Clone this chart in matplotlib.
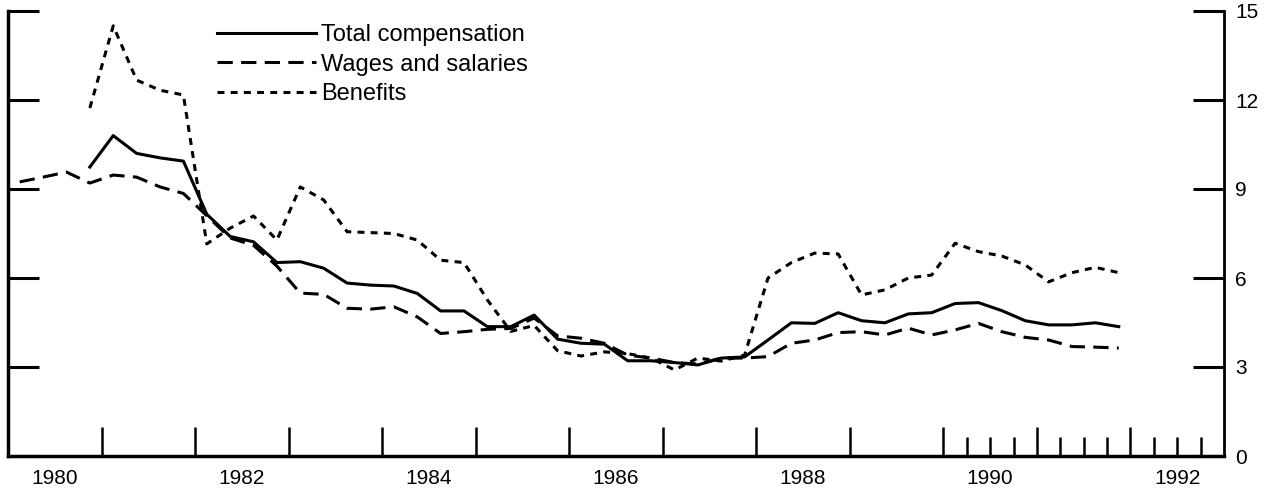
import numpy as np
import matplotlib
matplotlib.use("Agg")
import matplotlib.pyplot as plt

plt.rcParams['font.family'] = ['Liberation Sans', 'DejaVu Sans']
plt.rcParams['lines.scale_dashes'] = False

# quarterly percent changes, positioned at mid-quarter
wages_start = 1980.0  # Q1 1980
wages = [9.24, 9.4, 9.57, 9.2,
         9.47, 9.4, 9.07, 8.85,
         8.1, 7.35, 7.1, 6.4,
         5.49, 5.45, 4.98, 4.95,
         5.03, 4.69, 4.13, 4.19,
         4.27, 4.3, 4.65, 4.05,
         3.97, 3.8, 3.4, 3.3,
         3.15, 3.1, 3.3, 3.3,
         3.35, 3.8, 3.91, 4.16,
         4.19, 4.08, 4.31, 4.08,
         4.25, 4.47, 4.19, 4.0,
         3.91, 3.69, 3.67, 3.64]

total_start = 1980.75  # Q4 1980
total = [9.74,
         10.8, 10.2, 10.05, 9.94,
         8.15, 7.4, 7.22, 6.52,
         6.55, 6.33, 5.83, 5.76,
         5.73, 5.48, 4.89, 4.89,
         4.36, 4.36, 4.75, 3.94,
         3.8, 3.77, 3.21, 3.21,
         3.15, 3.07, 3.3, 3.34,
         3.91, 4.49, 4.47, 4.83,
         4.56, 4.49, 4.79, 4.83,
         5.14, 5.17, 4.9, 4.56,
         4.42, 4.42, 4.49, 4.36]

benefits_start = 1980.75  # Q4 1980
benefits = [11.73,
            14.5, 12.67, 12.33, 12.17,
            7.15, 7.68, 8.09, 7.28,
            9.07, 8.63, 7.56, 7.53,
            7.5, 7.28, 6.6, 6.52,
            5.26, 4.2, 4.4, 3.55,
            3.37, 3.51, 3.45, 3.3,
            2.9, 3.3, 3.2, 3.4,
            6.0, 6.52, 6.84, 6.81,
            5.43, 5.6, 6.0, 6.1,
            7.17, 6.89, 6.74, 6.44,
            5.87, 6.18, 6.36, 6.18]

year_labels = ['1980', '1982', '1984', '1986', '1988', '1990', '1992']
right_ticks = [0, 3, 6, 9, 12, 15]


def quarters(start, n):
    return start + 0.125 + 0.25 * np.arange(n)


fig = plt.figure(figsize=(12.76, 4.95), dpi=100)
ax = fig.add_axes([8 / 1276, 1 - 456 / 495, (1224 - 8) / 1276, (456 - 11) / 495])

lw = 2.2
ax.plot(quarters(total_start, len(total)), total, color='black', lw=lw,
        solid_joinstyle='round', label='Total compensation')
ax.plot(quarters(wages_start, len(wages)), wages, color='black', lw=lw,
        dashes=(11, 6), label='Wages and salaries')
ax.plot(quarters(benefits_start, len(benefits)), benefits, color='black', lw=lw,
        dashes=(5, 4.5), label='Benefits')

ax.set_xlim(1980, 1993)
ax.set_ylim(0, 15)

ax.spines['top'].set_visible(False)
ax.spines['bottom'].set_linewidth(2.5)
ax.spines['left'].set_linewidth(2.5)
ax.spines['right'].set_linewidth(2.0)

# x: year boundaries as major ticks, quarters from 1990 as minor ticks
ax.set_xticks(np.arange(1981, 1993))
ax.set_xticks(np.arange(1990.25, 1993, 0.25), minor=True)
ax.tick_params(axis='x', which='major', direction='in', length=21, width=1.8,
               labelbottom=False)
ax.tick_params(axis='x', which='minor', direction='in', length=14, width=1.8)

lab = ax.secondary_xaxis('bottom')
lab.set_xticks([int(y) + 0.5 for y in year_labels], year_labels)
lab.tick_params(length=0, pad=9, labelsize=15)
lab.spines['bottom'].set_visible(False)

# y: ticks on both sides, labels on the right
ax.set_yticks(right_ticks)
ax.tick_params(axis='y', which='major', direction='in', length=22, width=2.2,
               left=True, right=True, labelleft=False, labelright=True,
               labelsize=15, pad=8)

ax.legend(loc='upper left', bbox_to_anchor=(217 / 1276, 1 - 24 / 495),
          bbox_transform=fig.transFigure, frameon=False, fontsize=17,
          handlelength=4.2, handletextpad=0.2, labelspacing=0.32,
          borderaxespad=0, borderpad=0)

fig.savefig('out.png', dpi=100)
